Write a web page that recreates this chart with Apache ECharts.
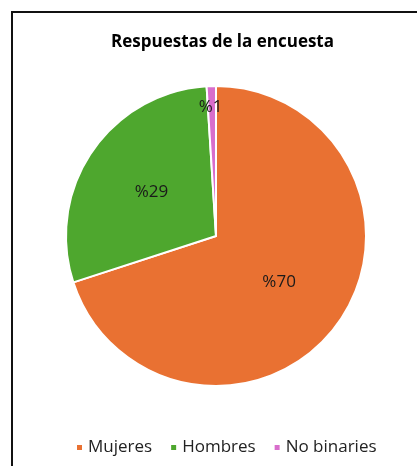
<!DOCTYPE html>
<html>
<head>
<meta charset="utf-8">
<script src="https://cdn.jsdelivr.net/npm/echarts@6/dist/echarts.min.js"></script>
<style>
html,body{margin:0;padding:0;background:#fff;}
#frame{position:absolute;left:11px;top:11px;width:420px;height:470px;border-left:2px solid #111;border-top:2px solid #111;box-sizing:border-box;}
#chart{position:absolute;left:0;top:0;width:417px;height:466px;}
</style>
</head>
<body>
<div id="frame"></div>
<div id="chart"></div>
<script>
const titleText = "Respuestas de la encuesta";
const categories = ["Mujeres", "Hombres", "No binaries"];
const values = [70, 29, 1];
const colors = ["#E97132", "#4EA72E", "#D86ECC"];

const chart = echarts.init(document.getElementById('chart'), null, {renderer: 'canvas'});
chart.setOption({
  backgroundColor: 'transparent',
  animation: false,
  title: {
    text: titleText,
    left: 106,
    top: 29,
    textStyle: {fontFamily: 'Open Sans', fontWeight: 'bold', fontSize: 17, color: '#000'}
  },
  legend: {
    data: categories,
    bottom: 5,
    left: 70,
    icon: 'rect',
    itemWidth: 7,
    itemHeight: 7,
    itemGap: 17,
    textStyle: {fontFamily: 'Open Sans', fontSize: 17, color: '#222'}
  },
  series: [{
    type: 'pie',
    center: [216, 236],
    radius: 150,
    startAngle: 90,
    clockwise: true,
    data: categories.map((c, i) => ({name: c, value: values[i], itemStyle: {color: colors[i]}})),
    itemStyle: {borderColor: '#fff', borderWidth: 2},
    label: {
      position: 'inside',
      formatter: p => '%' + p.value,
      fontFamily: 'Open Sans',
      fontSize: 17,
      color: '#1a1a1a'
    },
    labelLine: {show: false},
    labelLayout: function (params) {
      if (params.dataIndex === 2) return {dy: -51, dx: -3};
      return {};
    },
    emphasis: {disabled: true}
  }]
});
</script>
</body>
</html>
